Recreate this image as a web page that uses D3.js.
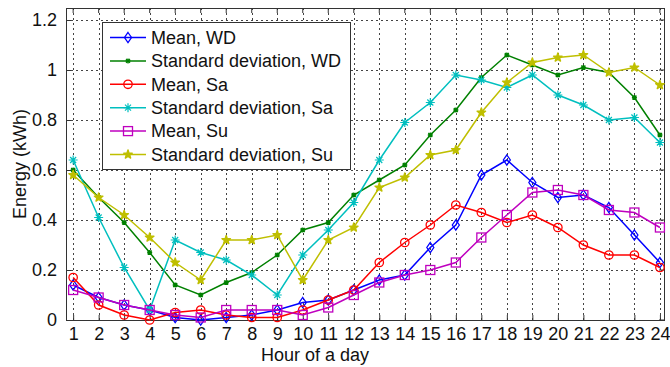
<!DOCTYPE html>
<html lang="en">
<head>
<meta charset="utf-8">
<script src="https://cdn.jsdelivr.net/npm/d3@7"></script>
<title>Hourly energy</title>
<style>
  body { margin: 0; background: #fff; }
  text { font-family: Arial, "Liberation Sans", sans-serif; }
</style>
</head>
<body>
<script>
var w = 670, h = 367;

// data
var hours = d3.range(1, 25);
var meanWD = [0.14,0.09,0.06,0.04,0.01,0.00,0.01,0.02,0.04,0.07,0.08,0.12,0.16,0.18,0.29,0.38,0.58,0.64,0.55,0.49,0.50,0.45,0.34,0.23];
var stdWD  = [0.60,0.49,0.39,0.27,0.14,0.10,0.15,0.19,0.26,0.36,0.39,0.50,0.56,0.62,0.74,0.84,0.97,1.06,1.02,0.98,1.01,0.99,0.89,0.74];
var meanSa = [0.17,0.06,0.02,0.00,0.03,0.04,0.02,0.01,0.01,0.04,0.08,0.12,0.23,0.31,0.38,0.46,0.43,0.39,0.42,0.37,0.30,0.26,0.26,0.21];
var stdSa  = [0.64,0.41,0.21,0.04,0.32,0.27,0.24,0.18,0.10,0.26,0.36,0.47,0.64,0.79,0.87,0.98,0.96,0.93,0.98,0.90,0.86,0.80,0.81,0.71];
var meanSu = [0.12,0.09,0.06,0.04,0.02,0.01,0.04,0.04,0.04,0.02,0.05,0.10,0.15,0.18,0.20,0.23,0.33,0.42,0.51,0.52,0.50,0.44,0.43,0.37];
var stdSu  = [0.58,0.49,0.42,0.33,0.23,0.16,0.32,0.32,0.34,0.16,0.32,0.37,0.53,0.57,0.66,0.68,0.83,0.95,1.03,1.05,1.06,0.99,1.01,0.94];
var yTicks = [0, 0.2, 0.4, 0.6, 0.8, 1, 1.2];

var series = [
  {name: "Mean, WD", values: meanWD, color: "#0000ff", marker: "diamond"},
  {name: "Standard deviation, WD", values: stdWD, color: "#008000", marker: "dot"},
  {name: "Mean, Sa", values: meanSa, color: "#ff0000", marker: "circle"},
  {name: "Standard deviation, Sa", values: stdSa, color: "#00bfbf", marker: "plus"},
  {name: "Mean, Su", values: meanSu, color: "#bf00bf", marker: "square"},
  {name: "Standard deviation, Su", values: stdSu, color: "#bfbf00", marker: "star"}
];

var L = 66, R = 664, T = 8, B = 320;
var fs = "18px";

var x = d3.scaleLinear().domain([0.72, 24.16]).range([L, R]);
var y = d3.scaleLinear().domain([0, 1.248]).range([B, T]);

var svg = d3.select("body").append("svg")
    .attr("width", w).attr("height", h);

// grid
var grid = svg.append("g").attr("stroke", "#444").attr("stroke-width", 1)
    .attr("stroke-dasharray", "2,3");
grid.selectAll("line.v").data(hours).enter().append("line")
    .attr("x1", function(d){ return Math.round(x(d)) + 0.5; })
    .attr("x2", function(d){ return Math.round(x(d)) + 0.5; })
    .attr("y1", T).attr("y2", B);
grid.selectAll("line.h").data(yTicks.slice(1)).enter().append("line")
    .attr("y1", function(d){ return Math.round(y(d)) + 0.5; })
    .attr("y2", function(d){ return Math.round(y(d)) + 0.5; })
    .attr("x1", L).attr("x2", R);

// axes
var xAxis = d3.axisBottom(x).tickValues(hours).tickSizeInner(-5).tickSizeOuter(0).tickPadding(7);
var yAxis = d3.axisLeft(y).tickValues(yTicks).tickSizeInner(-5).tickSizeOuter(0).tickPadding(9)
    .tickFormat(function(d){ return d3.format("")(+d.toFixed(1)); });

var gx = svg.append("g").attr("transform", "translate(0," + B + ")").call(xAxis);
var gy = svg.append("g").attr("transform", "translate(" + L + ",0)").call(yAxis);
[gx, gy].forEach(function(g){
  g.select(".domain").remove();
  g.selectAll("line").attr("stroke", "#333");
  g.selectAll("text").attr("font-size", fs).attr("fill", "#111")
    .attr("font-family", "Arial, 'Liberation Sans', sans-serif");
});
gx.selectAll("text").attr("dy", "0.72em");

// top-right ticks for the box (MATLAB style)
svg.append("g").selectAll("line").data(hours).enter().append("line")
    .attr("x1", function(d){ return x(d); }).attr("x2", function(d){ return x(d); })
    .attr("y1", T).attr("y2", T + 5).attr("stroke", "#333");
svg.append("g").selectAll("line").data(yTicks).enter().append("line")
    .attr("y1", function(d){ return y(d); }).attr("y2", function(d){ return y(d); })
    .attr("x1", R).attr("x2", R - 5).attr("stroke", "#333");

svg.append("rect").attr("x", L + 0.5).attr("y", T + 0.5)
    .attr("width", R - L).attr("height", B - T)
    .attr("fill", "none").attr("stroke", "#333").attr("stroke-width", 1);

// axis labels
svg.append("text").attr("x", 315).attr("y", 361)
    .attr("text-anchor", "middle").attr("font-size", fs).attr("fill", "#111")
    .text("Hour of a day");
svg.append("text").attr("transform", "translate(26,164) rotate(-90)")
    .attr("text-anchor", "middle").attr("font-size", fs).attr("fill", "#111")
    .text("Energy (kWh)");

// markers
var starPath = d3.symbol().type(d3.symbolStar).size(22)();
function drawMarker(g, type, color) {
  if (type === "diamond") {
    g.append("path").attr("d", "M0,-5L3.5,0L0,5L-3.5,0Z")
      .attr("fill", "none").attr("stroke", color).attr("stroke-width", 1.3);
  } else if (type === "circle") {
    g.append("circle").attr("r", 4.2)
      .attr("fill", "none").attr("stroke", color).attr("stroke-width", 1.3);
  } else if (type === "square") {
    g.append("rect").attr("x", -4.5).attr("y", -4.5).attr("width", 9).attr("height", 9)
      .attr("fill", "none").attr("stroke", color).attr("stroke-width", 1.3);
  } else if (type === "plus") {
    g.append("path").attr("d", "M-4.5,0H4.5M0,-4.5V4.5M-3,-3L3,3M-3,3L3,-3")
      .attr("stroke", color).attr("stroke-width", 1.2);
  } else if (type === "dot") {
    g.append("path").attr("d", "M-2.5,0H2.5M0,-2.5V2.5M-2,-2L2,2M-2,2L2,-2")
      .attr("stroke", color).attr("stroke-width", 1.3);
  } else if (type === "star") {
    g.append("path").attr("d", starPath).attr("fill", color).attr("stroke", color)
      .attr("stroke-width", 1.5).attr("stroke-linejoin", "round");
  }
}

var line = d3.line()
    .x(function(d, i){ return x(hours[i]); })
    .y(function(d){ return y(d); });

series.forEach(function(s){
  svg.append("path").datum(s.values)
    .attr("d", line).attr("fill", "none")
    .attr("stroke", s.color).attr("stroke-width", 1.5);
  s.values.forEach(function(v, i){
    var g = svg.append("g").attr("transform", "translate(" + x(hours[i]) + "," + y(v) + ")");
    drawMarker(g, s.marker, s.color);
  });
});

// legend
var leg = svg.append("g");
leg.append("rect").attr("x", 102.5).attr("y", 22.5).attr("width", 248).attr("height", 147)
    .attr("fill", "#fff").attr("stroke", "#333").attr("stroke-width", 1);
series.forEach(function(s, i){
  var yy = 37.5 + i * 23.4;
  leg.append("line").attr("x1", 110).attr("x2", 146).attr("y1", yy).attr("y2", yy)
    .attr("stroke", s.color).attr("stroke-width", 1.5);
  var g = leg.append("g").attr("transform", "translate(128," + yy + ")");
  drawMarker(g, s.marker, s.color);
  leg.append("text").attr("x", 151).attr("y", yy).attr("dy", "0.35em")
    .attr("font-size", fs).attr("fill", "#111").text(s.name);
});
</script>
</body>
</html>
